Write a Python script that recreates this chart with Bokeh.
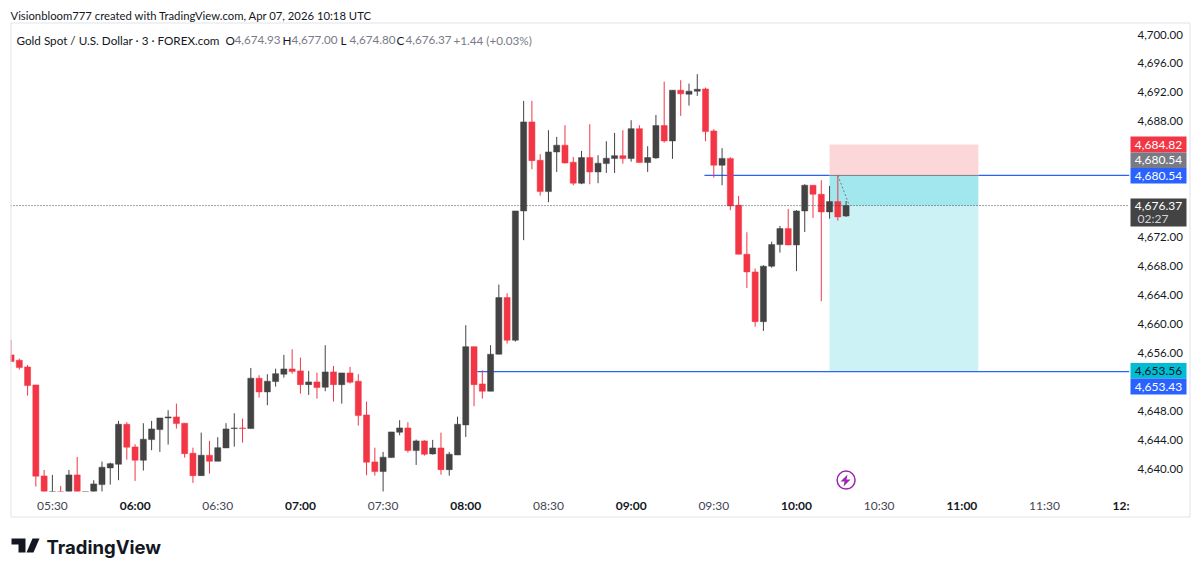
from bokeh.plotting import figure
from bokeh.layouts import column
from bokeh.models import Range1d, FixedTicker, ColumnDataSource, NumeralTickFormatter, Row
from bokeh.core.properties import value
from bokeh.embed import file_html
from bokeh.resources import INLINE

# ---- data: minutes since midnight, one bar every 3 minutes, from 05:15 ----
start_minute = 315
bar_step = 3
opens = [4655.75,4655.01,4654.09,4651.60,4639.03,4635.50,4636.50,4635.80,4639.17,4635.00,4636.20,4637.83,
 4640.14,4640.65,4646.17,4643.04,4641.20,4644.05,4645.43,4647.04,4647.18,4646.31,4642.17,4639.07,4641.89,
 4641.06,4642.90,4645.57,4645.66,4645.57,4652.53,4650.64,4652.06,4653.08,4653.81,4653.54,4651.64,4652.02,
 4651.28,4653.40,4651.64,4653.26,4652.11,4647.46,4640.97,4639.63,4641.56,4645.07,4645.66,4642.53,4643.87,
 4642.07,4642.90,4639.90,4641.93,4646.08,4656.89,4651.74,4650.73,4655.84,4663.66,4657.78,4675.63,4687.93,
 4682.63,4678.30,4683.78,4684.71,4682.36,4679.46,4683.00,4681.02,4682.17,4682.86,4683.27,4682.86,4687.00,
 4682.31,4682.96,4687.42,4685.30,4692.31,4691.75,4692.17,4692.49,4686.68,4681.95,4682.89,4676.42,4669.65,
 4667.21,4660.34,4668.00,4670.98,4673.19,4670.94,4675.63,4679.18,4677.94,4675.50,4676.92,4674.93]
highs = [4657.82,4655.23,4654.36,4651.60,4639.86,4639.17,4637.65,4639.86,4641.66,4636.40,4638.44,4641.01,
 4640.87,4646.63,4646.45,4643.41,4646.31,4646.63,4647.04,4648.11,4649.02,4646.31,4642.94,4645.01,4643.87,
 4644.38,4646.31,4647.69,4646.95,4653.95,4652.94,4653.08,4653.85,4655.75,4656.53,4655.37,4653.54,4653.30,
 4657.09,4654.23,4653.26,4654.09,4653.08,4649.30,4642.94,4642.35,4645.11,4646.73,4646.45,4644.05,4643.96,
 4644.01,4645.01,4642.35,4647.22,4659.85,4656.89,4653.63,4657.09,4665.46,4664.27,4675.63,4690.83,4690.83,
 4683.47,4686.78,4685.86,4687.47,4683.09,4683.92,4687.61,4683.33,4685.26,4686.41,4686.78,4688.16,4687.47,
 4684.57,4688.89,4693.49,4692.31,4693.69,4693.22,4694.52,4692.67,4686.92,4684.30,4683.05,4677.71,4672.69,
 4667.67,4668.13,4671.39,4673.56,4675.91,4675.73,4679.32,4679.18,4679.87,4679.09,4680.57,4677.00]
lows = [4654.78,4653.72,4650.12,4637.56,4636.00,4635.20,4635.50,4635.50,4635.60,4634.60,4636.00,4636.82,
 4637.83,4638.44,4641.28,4638.34,4639.77,4642.58,4642.35,4643.36,4645.57,4641.56,4638.07,4639.07,4639.35,
 4641.06,4642.90,4643.08,4643.63,4645.57,4649.85,4648.80,4651.37,4652.61,4653.16,4650.40,4650.22,4649.71,
 4650.73,4649.30,4649.02,4651.78,4645.98,4639.13,4639.07,4636.82,4641.56,4644.65,4642.25,4640.55,4641.84,
 4641.98,4639.21,4639.07,4641.93,4644.42,4648.66,4649.71,4650.73,4655.84,4657.31,4657.58,4671.59,4681.39,
 4677.75,4676.84,4681.02,4682.17,4679.18,4679.32,4679.32,4679.46,4680.88,4680.88,4682.17,4682.44,4682.31,
 4681.02,4682.82,4685.07,4682.82,4688.76,4690.18,4691.52,4685.26,4680.23,4679.18,4675.73,4669.65,4665.00,
 4659.65,4659.06,4667.80,4669.88,4670.94,4667.31,4672.73,4674.67,4663.16,4674.57,4674.30,4674.80]
closes = [4654.82,4653.99,4651.51,4638.99,4636.50,4636.60,4636.00,4639.17,4635.90,4636.00,4637.93,4640.23,
 4640.73,4646.17,4643.00,4641.20,4644.10,4645.52,4647.04,4647.18,4646.26,4642.11,4639.07,4641.89,4641.06,
 4642.94,4645.52,4645.66,4645.57,4652.53,4650.64,4652.11,4653.16,4653.81,4653.44,4651.64,4652.02,4651.23,
 4653.40,4651.64,4653.26,4651.98,4647.36,4640.93,4639.63,4641.62,4645.11,4645.66,4642.53,4643.87,4642.03,
 4642.90,4639.90,4642.03,4646.17,4656.89,4651.64,4650.73,4655.84,4663.66,4657.78,4675.63,4687.93,4682.58,
 4678.30,4683.78,4684.71,4682.26,4679.46,4683.00,4681.02,4682.22,4682.91,4683.27,4682.86,4687.00,4682.31,
 4683.00,4687.42,4685.30,4692.31,4691.80,4692.17,4692.44,4686.59,4681.95,4682.89,4676.33,4669.65,4667.21,
 4660.34,4668.00,4670.98,4673.19,4670.94,4675.63,4679.18,4677.94,4675.50,4676.92,4674.81,4676.37]

price_ticks = [4700,4696,4692,4688,4672,4668,4664,4660,4656,4648,4644,4640]
half_hour_ticks = [330,390,450,510,570,630,690]
half_hour_labels = ["05:30","06:30","07:30","08:30","09:30","10:30","11:30"]
hour_ticks = [360,420,480,540,600,660]
hour_labels = ["06:00","07:00","08:00","09:00","10:00","11:00"]

stop_price = 4684.82
entry_price = 4680.54
target_price = 4653.56
last_price = 4676.37
low_line_price = 4653.43
tool_start, tool_end = 612, 666
entry_line_start = 566.6
low_line_start = 484.2

header = "Visionbloom777 created with TradingView.com, Apr 07, 2026 10:18 UTC"
title = "Gold Spot / U.S. Dollar · 3 · FOREX.com"
ohlc_text = [("O","4,674.93"),("H","4,677.00"),("L","4,674.80"),("C","4,676.37")]
change_text = "+1.44 (+0.03%)"
countdown = "02:27"

# ---- style ----
FONT = "Lato"
RED = "#f23645"; DARK = "#434343"; BLUE = "#2962ff"; TEAL = "#00bcd4"; GRAY = "#787b86"; INK = "#131722"
PURPLE = "#9c27b0"
W, H = 1192, 566

minutes = [start_minute + i*bar_step for i in range(len(opens))]
src = ColumnDataSource(dict(
    x=minutes, o=opens, h=highs, l=lows, c=closes,
    top=[max(o,c) for o,c in zip(opens,closes)],
    bottom=[min(o,c) for o,c in zip(opens,closes)],
    color=[DARK if c >= o else RED for o, c in zip(opens, closes)]))

p = figure(width=W, height=H, output_backend="svg", toolbar_location=None,
           x_range=Range1d(314.8, 720.84), y_range=Range1d(4636.88, 4701.52),
           y_axis_location="right", min_border_left=10, min_border_right=63,
           min_border_top=23, min_border_bottom=75, background_fill_color="white",
           border_fill_color="white", outline_line_color=None)
p.grid.visible = False

yax = p.yaxis[0]
yax.ticker = FixedTicker(ticks=price_ticks)
yax.formatter = NumeralTickFormatter(format="0,0.00")
yax.axis_line_color = None; yax.major_tick_line_color = None; yax.minor_tick_line_color = None
yax.major_label_text_font = FONT; yax.major_label_text_font_size = "11.5px"
yax.major_label_text_color = INK; yax.major_label_standoff = 2

xax = p.xaxis[0]
xax.ticker = FixedTicker(ticks=half_hour_ticks)
xax.major_label_overrides = dict(zip(half_hour_ticks, half_hour_labels))
xax.axis_line_color = None; xax.major_tick_line_color = None; xax.minor_tick_line_color = None
xax.major_label_text_font = FONT; xax.major_label_text_font_size = "12px"
xax.major_label_text_color = "#434651"; xax.major_label_standoff = 0

# position tool
p.quad(left=tool_start, right=tool_end, bottom=entry_price, top=stop_price,
       fill_color=RED, fill_alpha=0.2, line_color=None)
p.quad(left=tool_start, right=tool_end, bottom=target_price, top=entry_price,
       fill_color=TEAL, fill_alpha=0.2, line_color=None)
p.quad(left=tool_start, right=tool_end, bottom=last_price, top=entry_price,
       fill_color=TEAL, fill_alpha=0.2, line_color=None)

# price lines
p.segment(x0=entry_line_start, x1=tool_start, y0=entry_price, y1=entry_price, line_color=BLUE, line_width=1.2)
p.segment(x0=tool_end, x1=720.84, y0=entry_price, y1=entry_price, line_color=BLUE, line_width=1.2)
p.segment(x0=tool_start, x1=tool_end, y0=entry_price, y1=entry_price, line_color=GRAY, line_width=1)
p.segment(x0=low_line_start, x1=720.84, y0=low_line_price, y1=low_line_price, line_color=BLUE, line_width=1.2)

# candles
p.segment(x0="x", x1="x", y0="h", y1="l", source=src, line_color="color", line_width=1)
p.vbar(x="x", width=2.2, top="top", bottom="bottom", source=src,
       fill_color="color", line_color="color", line_width=0.5)

p.line(x=[615, 619.2], y=[entry_price, last_price], line_color=GRAY, line_dash="2 2", line_width=1)
p.segment(x0=314.8, x1=720.84, y0=last_price, y1=last_price, line_color=DARK, line_dash="1 2", line_width=1)

# realtime-alert marker
p.scatter(x=[618], y=[4638.46], marker="circle", size=18, fill_color=None,
          line_color=PURPLE, line_width=1.5)

# ---- transparent layer on top of the chart, in page pixels, for everything outside its frame ----
q = figure(width=W, height=H, output_backend="svg", toolbar_location=None,
           x_range=Range1d(0, W), y_range=Range1d(H, 0),
           x_axis_location=None, y_axis_location=None,
           min_border=0, background_fill_color=None, border_fill_color=None,
           outline_line_color=None)
q.grid.visible = False

def box(l, t, r, b, fill=None, line=None):
    q.quad(left=l, right=r, top=t, bottom=b, fill_color=fill, fill_alpha=1 if fill else 0,
           line_color=line, line_alpha=1 if line else 0, line_width=1)

def label(x, y, text, color=INK, size="12px", align="left", bold=False, font=FONT):
    q.text(x=[x], y=[y], text=[text], text_color=color, text_font=value(font),
           text_font_size=size, text_align=align, text_baseline="middle",
           text_font_style="bold" if bold else "normal")

# outer pane border
box(10.5, 22.5, 1189.5, 516.5, None, "#e0e3eb")

# price tags
def tag(t, b, fill, text, color="white", y=None):
    box(1130, t, 1186, b, fill)
    label(1158, (t+b)/2 if y is None else y, text, color, align="center")

tag(136, 152, RED, f"{stop_price:,.2f}")
tag(152, 167.5, GRAY, f"{entry_price:,.2f}")
tag(167.5, 183, BLUE, f"{entry_price:,.2f}")
tag(198, 226, DARK, f"{last_price:,.2f}", y=205)
label(1137, 218, countdown, "#d1d4dc")
tag(362.5, 378, TEAL, f"{target_price:,.2f}", color=INK)
tag(378, 394, BLUE, f"{low_line_price:,.2f}")

# hour labels on the time axis
for m, s in zip(hour_ticks, hour_labels):
    px = 796 + (m-600)*2.7557
    label(px, 505, s, INK, align="center", bold=True)
label(1112, 505, "12:", INK, bold=True)

# header and legend
label(10, 14.5, header, INK, size="11.3px")
label(16, 39, title, INK, size="11.7px")
for (k, v), x in zip(ohlc_text, [225, 282, 340, 396]):
    label(x, 39, k, INK, size="11.7px")
    label(x+9, 39, v, GRAY, size="11.7px")
label(453, 39, change_text, GRAY, size="11.7px")

# alert bolt and logo
q.patch(x=[847,840,844,843,850,846,847], y=[474,481,481,486,479,479,474], fill_color=PURPLE, line_color=None)
q.patch(x=[11,25,25,18,18,11], y=[538,538,552,552,544,544], fill_color=INK, line_color=None)
q.patch(x=[32,39,33,26], y=[538,538,552,552], fill_color=INK, line_color=None)
label(46, 546, "TradingView", INK, size="18.5px", bold=True, font="Inter")

overlay = Row(children=[q], width=W, height=H, margin=(-H, 0, 0, 0))
open("out.html", "w").write(file_html(column(p, overlay), INLINE))
